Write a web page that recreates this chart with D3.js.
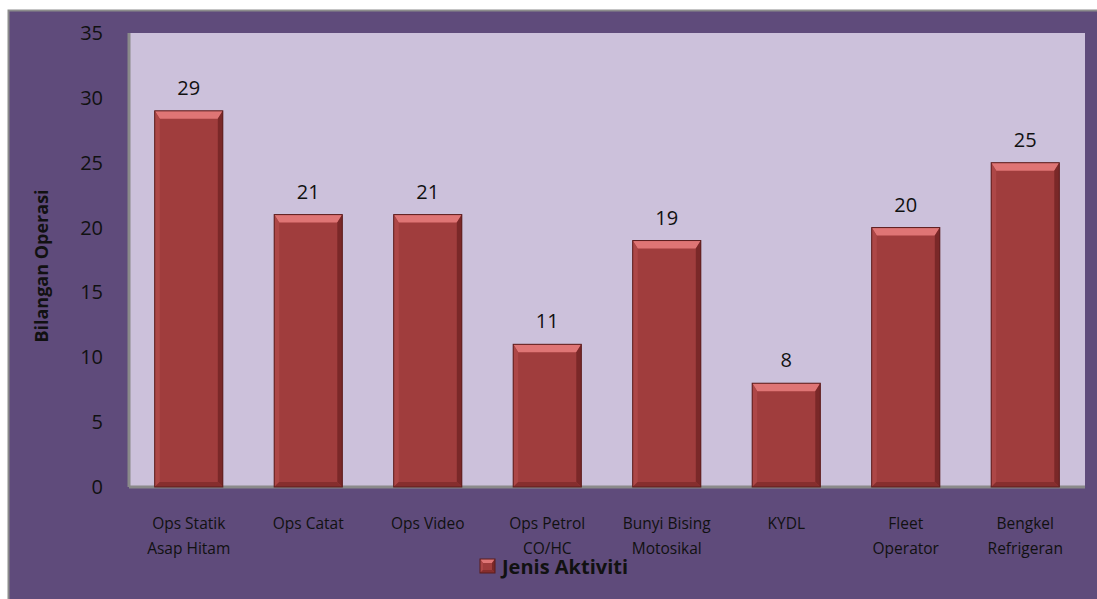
<!DOCTYPE html>
<html>
<head>
<meta charset="utf-8">
<script src="https://cdn.jsdelivr.net/npm/d3@7"></script>
<style>
  body { margin: 0; background: #fff; }
  svg { display: block; font-family: "Open Sans", "Noto Sans", sans-serif; }
</style>
</head>
<body>
<div class="bar_chart"></div>
<script>
// data
const categories = [
  "Ops Statik\nAsap Hitam", "Ops Catat", "Ops Video", "Ops Petrol\nCO/HC",
  "Bunyi Bising\nMotosikal", "KYDL", "Fleet\nOperator", "Bengkel\nRefrigeran"
];
const values = [29, 21, 21, 11, 19, 8, 20, 25];
const yTicks = [0, 5, 10, 15, 20, 25, 30, 35];
const seriesName = "Jenis Aktiviti";
const yTitle = "Bilangan Operasi";

const width = 1097, height = 599;
const plot = { left: 129, top: 33, right: 1085, bottom: 487 };

const svg = d3.select(".bar_chart").append("svg")
  .attr("width", width)
  .attr("height", height);

// outer chart area
svg.append("rect")
  .attr("x", 8.5).attr("y", 10.5)
  .attr("width", width).attr("height", height)
  .attr("fill", "#5f4b7b")
  .attr("stroke", "#8c8c8c")
  .attr("stroke-width", 2);

// plot area
svg.append("rect")
  .attr("x", plot.left).attr("y", plot.top)
  .attr("width", plot.right - plot.left).attr("height", plot.bottom - plot.top)
  .attr("fill", "#ccc1db");

const x = d3.scaleBand()
  .domain(categories)
  .range([plot.left, plot.right])
  .paddingInner(0.43)
  .paddingOuter(0.215);

const y = d3.scaleLinear()
  .domain([0, 35])
  .range([plot.bottom, plot.top]);

// axis lines
svg.append("line")
  .attr("x1", plot.left).attr("x2", plot.left)
  .attr("y1", plot.top).attr("y2", plot.bottom)
  .attr("stroke", "#8a8a8a").attr("stroke-width", 3);
svg.append("line")
  .attr("x1", plot.left).attr("x2", plot.right)
  .attr("y1", plot.bottom).attr("y2", plot.bottom)
  .attr("stroke", "#8a8a8a").attr("stroke-width", 3);

// y tick labels
svg.append("g")
  .attr("font-size", 20)
  .attr("fill", "#111")
  .attr("text-anchor", "end")
  .selectAll("text")
  .data(yTicks)
  .join("text")
  .attr("x", 103)
  .attr("y", d => y(d))
  .attr("dy", "0.35em")
  .text(d => d);

// y title
svg.append("text")
  .attr("transform", `translate(48,${(plot.top + plot.bottom) / 2 + 6}) rotate(-90)`)
  .attr("text-anchor", "middle")
  .attr("font-size", 18)
  .attr("font-weight", "bold")
  .attr("fill", "#111")
  .text(yTitle);

// bevelled bars
function bevelBar(g, x0, y0, w, h, bt, bs) {
  const x1 = x0 + w, y1 = y0 + h;
  g.append("rect").attr("x", x0).attr("y", y0).attr("width", w).attr("height", h).attr("fill", "#a03d3d");
  g.append("polygon").attr("points", [[x0, y0], [x1, y0], [x1 - bs, y0 + bt], [x0 + bs, y0 + bt]].join(" ")).attr("fill", "#df7575");
  g.append("polygon").attr("points", [[x0, y0], [x0 + bs, y0 + bt], [x0 + bs, y1 - bs], [x0, y1]].join(" ")).attr("fill", "#ad4747");
  g.append("polygon").attr("points", [[x1, y0], [x1, y1], [x1 - bs, y1 - bs], [x1 - bs, y0 + bt]].join(" ")).attr("fill", "#7a2828");
  g.append("polygon").attr("points", [[x0, y1], [x0 + bs, y1 - bs], [x1 - bs, y1 - bs], [x1, y1]].join(" ")).attr("fill", "#862e2e");
  g.append("rect").attr("x", x0).attr("y", y0).attr("width", w).attr("height", h)
    .attr("fill", "none").attr("stroke", "#5a1c1c").attr("stroke-width", 1);
}

const bars = svg.append("g");
categories.forEach((c, i) => {
  const g = bars.append("g");
  bevelBar(g, x(c), y(values[i]), x.bandwidth(), y(0) - y(values[i]), 8, 5);
});

// value labels
svg.append("g")
  .attr("font-size", 20)
  .attr("fill", "#111")
  .attr("text-anchor", "middle")
  .selectAll("text")
  .data(categories)
  .join("text")
  .attr("x", d => x(d) + x.bandwidth() / 2)
  .attr("y", (d, i) => y(values[i]) - 16)
  .text((d, i) => values[i]);

// category labels
svg.append("g")
  .attr("font-size", 15.5)
  .attr("fill", "#111")
  .attr("text-anchor", "middle")
  .selectAll("text")
  .data(categories)
  .join("text")
  .attr("x", d => x(d) + x.bandwidth() / 2)
  .attr("y", 529)
  .selectAll("tspan")
  .data(d => d.split("\n"))
  .join("tspan")
  .attr("x", function () { return this.parentNode.getAttribute("x"); })
  .attr("dy", (_, i) => i ? 25 : 0)
  .text(d => d);

// legend
const lg = svg.append("g").attr("transform", "translate(480,559)");
bevelBar(lg, 0, 0, 15, 14, 4, 3);
lg.append("text")
  .attr("x", 22).attr("y", 15)
  .attr("font-size", 20)
  .attr("font-weight", "bold")
  .attr("fill", "#111")
  .text(seriesName);
</script>
</body>
</html>
